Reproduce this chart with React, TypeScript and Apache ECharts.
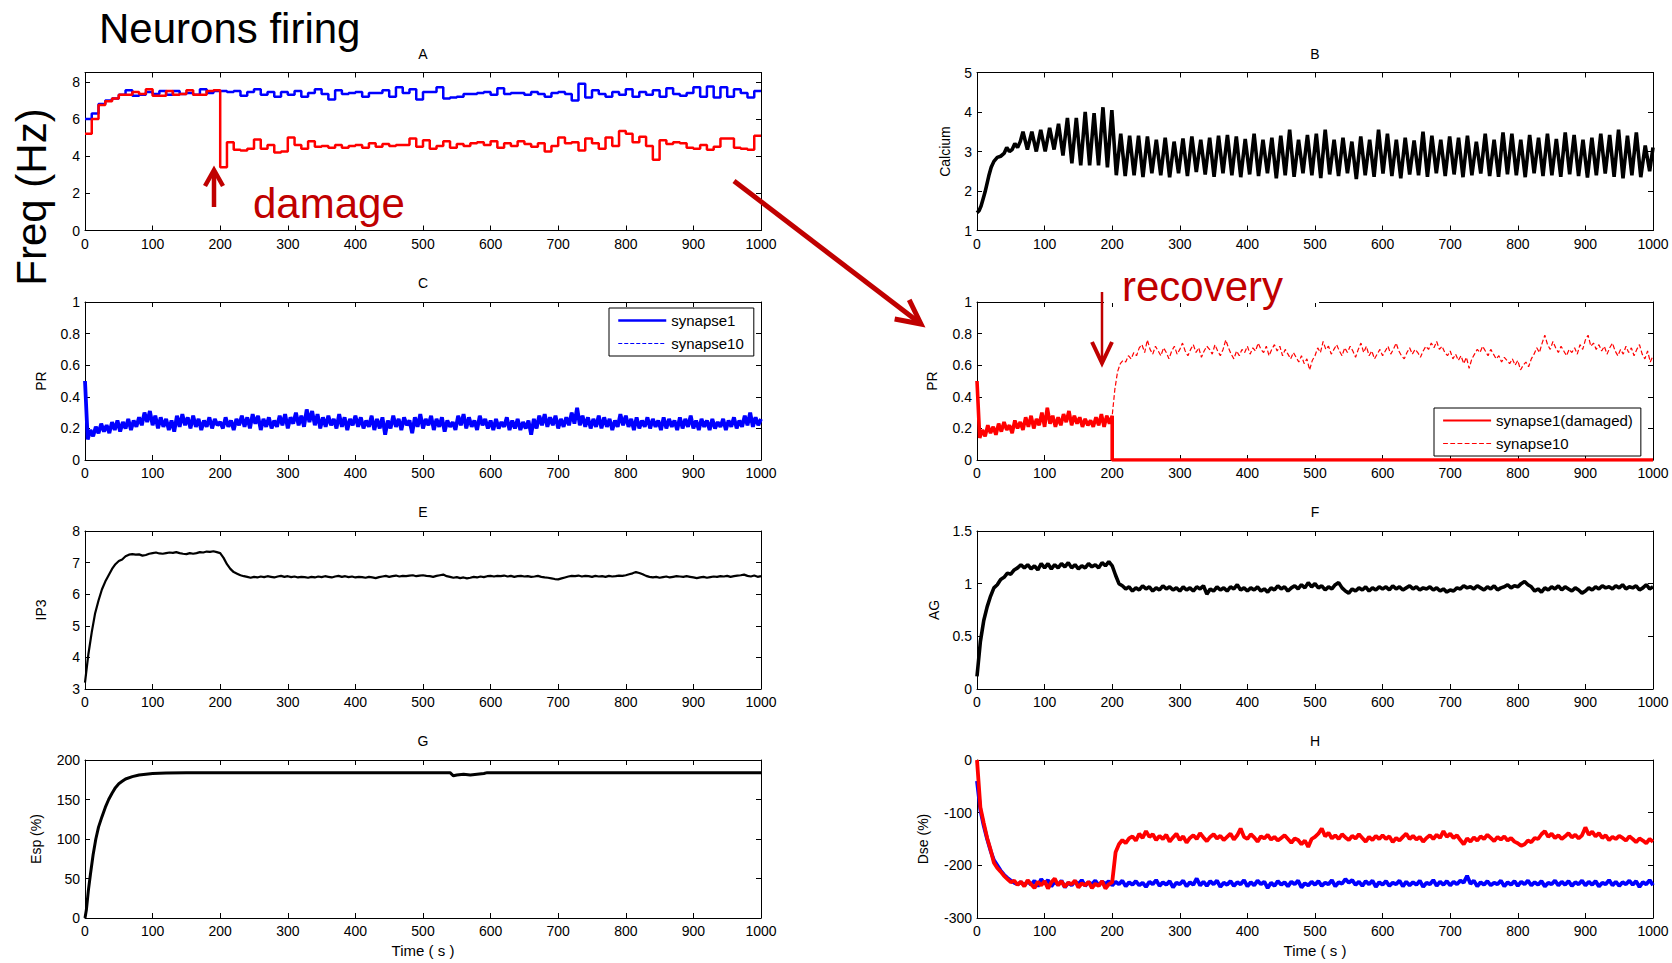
import React, { useEffect, useRef } from "react";
import * as echarts from "echarts";

const FONT = "'Liberation Sans', Arial, Helvetica, sans-serif";
const DARK_RED = "#c00000";

// ---------- Panel A: firing frequency, 10 s bins (0..990) ----------
const freqHealthy = [
  6.0, 6.3, 6.8, 7.0, 7.1, 7.3, 7.55, 7.25, 7.3, 7.45,
  7.35, 7.5, 7.3, 7.5, 7.35, 7.4, 7.3, 7.6, 7.4, 7.5,
  7.5, 7.45, 7.5, 7.25, 7.45, 7.6, 7.3, 7.45, 7.2, 7.45,
  7.3, 7.5, 7.2, 7.4, 7.6, 7.35, 7.05, 7.55, 7.35, 7.4,
  7.45, 7.2, 7.4, 7.4, 7.55, 7.2, 7.7, 7.4, 7.6, 7.05,
  7.45, 7.45, 7.7, 7.1, 7.15, 7.2, 7.35, 7.35, 7.4, 7.45,
  7.3, 7.65, 7.35, 7.4, 7.4, 7.3, 7.45, 7.35, 7.2, 7.4,
  7.45, 7.35, 7.0, 7.9, 7.15, 7.55, 7.35, 7.2, 7.45, 7.3,
  7.6, 7.2, 7.45, 7.3, 7.55, 7.2, 7.65, 7.35, 7.25, 7.4,
  7.7, 7.2, 7.75, 7.15, 7.7, 7.2, 7.6, 7.4, 7.15, 7.5,
];
const freqDamaged = [
  5.2, 6.0, 6.75, 6.95, 7.1, 7.3, 7.3, 7.45, 7.35, 7.6,
  7.25, 7.25, 7.5, 7.3, 7.35, 7.55, 7.3, 7.3, 7.5, 7.55,
  3.4, 4.75, 4.35, 4.3, 4.4, 4.9, 4.4, 4.6, 4.2, 4.25,
  5.0, 4.6, 4.4, 4.8, 4.5, 4.55, 4.45, 4.6, 4.45, 4.55,
  4.6, 4.45, 4.7, 4.5, 4.65, 4.55, 4.6, 4.6, 4.95, 4.5,
  4.85, 4.4, 4.55, 4.8, 4.45, 4.65, 4.55, 4.7, 4.75, 4.6,
  4.8, 4.45, 4.7, 4.55, 4.8, 4.65, 4.5, 4.7, 4.25, 4.55,
  5.0, 4.7, 4.75, 4.3, 4.95, 4.7, 4.4, 5.0, 4.55, 5.35,
  5.2, 4.75, 5.05, 4.55, 3.8, 4.85, 4.65, 4.75, 4.7, 4.45,
  4.4, 4.6, 4.35, 4.5, 4.95, 4.95, 4.45, 4.4, 4.35, 5.1,
];

// ---------- Panel B: calcium ----------
const caRampTime = [0, 3, 6, 9, 12, 15, 18, 21, 25, 30, 35, 40, 44, 48, 52, 56, 60, 64];
const caRampValue = [1.45, 1.5, 1.62, 1.8, 1.98, 2.2, 2.42, 2.6, 2.75, 2.85, 2.88, 2.95, 3.1, 3.0, 3.05, 3.2, 3.1, 3.25];
const caFirstPeak = 68;
const caPeriod = 13.15;
const caPeaks = [
  3.5, 3.5, 3.55, 3.6, 3.7, 3.85, 3.85, 4.0, 3.97, 4.12, 4.05,
  3.45, 3.4, 3.4, 3.38, 3.3, 3.35, 3.25, 3.33, 3.38, 3.3,
  3.35, 3.4, 3.42, 3.38, 3.32, 3.45, 3.3, 3.35, 3.4, 3.55,
  3.3, 3.42, 3.45, 3.55, 3.3, 3.35, 3.25, 3.38, 3.3, 3.55,
  3.45, 3.3, 3.35, 3.28, 3.5, 3.4, 3.3, 3.38, 3.35, 3.4,
  3.25, 3.45, 3.3, 3.48, 3.45, 3.3, 3.42, 3.35, 3.45, 3.32,
  3.48, 3.42, 3.3, 3.35, 3.45, 3.42, 3.55, 3.4, 3.48, 3.15,
];
const caTroughs = [
  3.05, 3.0, 3.0, 3.05, 2.9, 2.7, 2.65, 2.65, 2.65, 2.6, 2.4,
  2.38, 2.4, 2.35, 2.45, 2.4, 2.35, 2.45, 2.38, 2.48, 2.42,
  2.36, 2.45, 2.4, 2.35, 2.42, 2.38, 2.45, 2.32, 2.4, 2.36,
  2.45, 2.4, 2.33, 2.42, 2.38, 2.45, 2.3, 2.4, 2.36, 2.44,
  2.38, 2.32, 2.42, 2.4, 2.36, 2.45, 2.38, 2.42, 2.35, 2.4,
  2.44, 2.38, 2.36, 2.42, 2.4, 2.35, 2.45, 2.38, 2.4, 2.36,
  2.42, 2.38, 2.34, 2.4, 2.44, 2.36, 2.32, 2.4, 2.35, 2.5,
];
const caEnd = 3.1;

// ---------- Panel C: PR, healthy synapses (every 4 s, 0..1000) ----------
const prHealthy = [
  0.50, 0.13, 0.19, 0.15, 0.21, 0.17, 0.23, 0.18, 0.22, 0.17,
  0.24, 0.19, 0.25, 0.18, 0.24, 0.20, 0.26, 0.19, 0.25, 0.21,
  0.27, 0.22, 0.30, 0.24, 0.31, 0.22, 0.28, 0.20, 0.27, 0.21,
  0.26, 0.19, 0.25, 0.18, 0.28, 0.21, 0.29, 0.22, 0.27, 0.20,
  0.28, 0.21, 0.26, 0.19, 0.25, 0.21, 0.27, 0.20, 0.26, 0.22,
  0.24, 0.20, 0.27, 0.21, 0.25, 0.19, 0.26, 0.22, 0.28, 0.21,
  0.27, 0.20, 0.29, 0.23, 0.28, 0.19, 0.26, 0.21, 0.27, 0.20,
  0.25, 0.21, 0.28, 0.22, 0.29, 0.20, 0.27, 0.23, 0.30, 0.22,
  0.28, 0.21, 0.32, 0.24, 0.31, 0.22, 0.29, 0.20, 0.27, 0.21,
  0.28, 0.22, 0.26, 0.20, 0.29, 0.21, 0.27, 0.19, 0.26, 0.22,
  0.28, 0.21, 0.27, 0.20, 0.25, 0.21, 0.28, 0.19, 0.26, 0.20,
  0.27, 0.16, 0.25, 0.20, 0.28, 0.21, 0.26, 0.19, 0.27, 0.22,
  0.25, 0.17, 0.27, 0.21, 0.29, 0.20, 0.26, 0.22, 0.28, 0.19,
  0.26, 0.21, 0.27, 0.18, 0.25, 0.21, 0.24, 0.19, 0.28, 0.22,
  0.29, 0.20, 0.27, 0.21, 0.25, 0.19, 0.28, 0.22, 0.26, 0.20,
  0.25, 0.19, 0.26, 0.20, 0.24, 0.21, 0.27, 0.19, 0.25, 0.20,
  0.26, 0.19, 0.24, 0.20, 0.25, 0.16, 0.26, 0.20, 0.28, 0.22,
  0.29, 0.21, 0.27, 0.22, 0.28, 0.20, 0.26, 0.21, 0.27, 0.22,
  0.30, 0.23, 0.33, 0.22, 0.28, 0.21, 0.27, 0.20, 0.26, 0.21,
  0.28, 0.20, 0.27, 0.21, 0.26, 0.19, 0.25, 0.21, 0.29, 0.22,
  0.28, 0.21, 0.26, 0.19, 0.27, 0.20, 0.25, 0.21, 0.27, 0.20,
  0.26, 0.21, 0.25, 0.19, 0.27, 0.20, 0.26, 0.21, 0.25, 0.19,
  0.27, 0.20, 0.26, 0.21, 0.28, 0.20, 0.25, 0.19, 0.26, 0.21,
  0.25, 0.19, 0.26, 0.20, 0.24, 0.21, 0.26, 0.19, 0.25, 0.21,
  0.27, 0.20, 0.25, 0.21, 0.28, 0.22, 0.30, 0.21, 0.27, 0.22,
  0.26,
];

// ---------- Panel D: PR with damage (every 4 s) ----------
const prBeforeDamage = [
  0.50, 0.14, 0.19, 0.15, 0.22, 0.17, 0.21, 0.16, 0.23, 0.18,
  0.24, 0.19, 0.22, 0.17, 0.25, 0.20, 0.24, 0.19, 0.27, 0.21,
  0.28, 0.20, 0.26, 0.22, 0.30, 0.21, 0.33, 0.23, 0.28, 0.21,
  0.27, 0.22, 0.29, 0.24, 0.31, 0.22, 0.28, 0.23, 0.27, 0.21,
  0.26, 0.22, 0.25, 0.21, 0.27, 0.22, 0.29, 0.21, 0.28, 0.23,
];
const damageTime = 200;
const prAtDamage = 0.28;
const prDamagedAfter = 0;
const prRecovery = [
  0.45, 0.56, 0.61, 0.63, 0.62, 0.66, 0.64, 0.68, 0.66, 0.71,
  0.73, 0.68, 0.76, 0.70, 0.67, 0.72, 0.69, 0.66, 0.71, 0.68,
  0.64, 0.69, 0.72, 0.67, 0.70, 0.74, 0.69, 0.66, 0.70, 0.73,
  0.68, 0.71, 0.65, 0.69, 0.72, 0.70, 0.67, 0.73, 0.69, 0.66,
  0.70, 0.76, 0.71, 0.67, 0.64, 0.69, 0.66, 0.70, 0.68, 0.72,
  0.67, 0.71, 0.69, 0.74, 0.70, 0.68, 0.72, 0.66, 0.70, 0.73,
  0.69, 0.72, 0.66, 0.70, 0.67, 0.64, 0.68, 0.65, 0.62, 0.66,
  0.61, 0.64, 0.57, 0.63, 0.66, 0.71, 0.68, 0.75, 0.70, 0.72,
  0.67, 0.70, 0.73, 0.69, 0.66, 0.71, 0.68, 0.72, 0.69, 0.65,
  0.70, 0.74, 0.68, 0.72, 0.66, 0.69, 0.64, 0.67, 0.70, 0.66,
  0.69, 0.72, 0.67, 0.70, 0.74, 0.69, 0.66, 0.64, 0.68, 0.71,
  0.67, 0.70, 0.68, 0.65, 0.69, 0.72, 0.70, 0.74, 0.71, 0.75,
  0.70, 0.72, 0.68, 0.66, 0.69, 0.64, 0.67, 0.63, 0.66, 0.61,
  0.65, 0.58, 0.64, 0.67, 0.70, 0.68, 0.72, 0.69, 0.66, 0.70,
  0.67, 0.64, 0.66, 0.62, 0.65, 0.63, 0.61, 0.64, 0.60, 0.63,
  0.57, 0.60, 0.62, 0.59, 0.64, 0.67, 0.71, 0.68, 0.74, 0.79,
  0.73, 0.70, 0.75, 0.71, 0.68, 0.72, 0.69, 0.66, 0.70, 0.68,
  0.71, 0.67, 0.73, 0.70, 0.76, 0.79, 0.72, 0.74, 0.70, 0.73,
  0.69, 0.72, 0.67, 0.71, 0.74, 0.69, 0.66, 0.70, 0.67, 0.72,
  0.68, 0.71, 0.66, 0.70, 0.73, 0.67, 0.64, 0.69, 0.62, 0.66,
];

// ---------- Panel E: IP3 (every 5 s) ----------
const ip3 = [
  3.2, 4.1, 4.8, 5.4, 5.8, 6.15, 6.4, 6.6, 6.8, 6.95, 7.05, 7.1, 7.2, 7.25, 7.27, 7.25, 7.26, 7.22, 7.24, 7.28,
  7.3, 7.32, 7.29, 7.28, 7.3, 7.32, 7.31, 7.33, 7.3, 7.28, 7.27, 7.3, 7.28, 7.3, 7.33, 7.32, 7.35, 7.34, 7.36, 7.33,
  7.3, 7.15, 6.95, 6.8, 6.7, 6.65, 6.6, 6.57, 6.55, 6.52, 6.55, 6.53, 6.56, 6.54, 6.57, 6.55, 6.53, 6.56, 6.58, 6.55,
  6.57, 6.54, 6.56, 6.53, 6.55, 6.54, 6.52, 6.55, 6.53, 6.56, 6.54, 6.57, 6.55, 6.53, 6.56, 6.58, 6.55, 6.57, 6.54, 6.56,
  6.53, 6.55, 6.54, 6.52, 6.55, 6.53, 6.51, 6.54, 6.56, 6.58, 6.55, 6.57, 6.59, 6.56, 6.58, 6.57, 6.59, 6.6, 6.57, 6.59,
  6.6, 6.58, 6.57, 6.55, 6.58, 6.6, 6.62, 6.57, 6.55, 6.52, 6.54, 6.51, 6.53, 6.5, 6.52, 6.55, 6.53, 6.56, 6.54, 6.57,
  6.58, 6.56, 6.58, 6.57, 6.59, 6.56, 6.58, 6.55, 6.57, 6.58, 6.56, 6.57, 6.55, 6.56, 6.58, 6.55, 6.53, 6.52, 6.5, 6.48,
  6.47, 6.5, 6.53, 6.56, 6.58, 6.57, 6.59, 6.56, 6.58, 6.57, 6.55, 6.58, 6.56, 6.57, 6.55, 6.58, 6.56, 6.57, 6.59, 6.58,
  6.6, 6.63, 6.66, 6.7, 6.67, 6.63, 6.58, 6.55, 6.53, 6.55, 6.52, 6.54, 6.56, 6.53, 6.55, 6.57, 6.56, 6.55, 6.57, 6.55,
  6.53, 6.51, 6.53, 6.55, 6.52, 6.54, 6.56, 6.55, 6.57, 6.56, 6.58, 6.55, 6.57, 6.59, 6.6, 6.62, 6.58, 6.56, 6.59, 6.55,
  6.57,
];

// ---------- Panel F: AG (every 5 s) ----------
const ag = [
  0.12, 0.45, 0.65, 0.78, 0.88, 0.96, 0.99, 1.04, 1.06, 1.1, 1.09, 1.13, 1.15, 1.18, 1.15, 1.18, 1.14, 1.17, 1.13, 1.19,
  1.15, 1.19, 1.14, 1.18, 1.15, 1.19, 1.16, 1.2, 1.15, 1.18, 1.14, 1.17, 1.15, 1.19, 1.16, 1.18, 1.15, 1.2, 1.17, 1.21,
  1.17, 1.08, 1.0, 0.98, 0.95, 0.97, 0.93, 0.96, 0.94, 0.98, 0.95, 0.97, 0.93, 0.96, 0.94, 0.98, 0.95, 0.97, 0.94, 0.96,
  0.93, 0.97, 0.94, 0.96, 0.93, 0.97, 0.95, 0.98, 0.9, 0.95, 0.93, 0.97, 0.94, 0.96, 0.93, 0.97, 0.95, 0.99, 0.94, 0.96,
  0.93, 0.96, 0.94, 0.97, 0.93, 0.95, 0.92, 0.96, 0.94, 0.98, 0.95, 0.97, 0.93, 0.96, 0.98, 0.95, 0.99, 0.96, 1.01, 0.97,
  1.0, 0.96, 0.98, 0.94, 0.97, 0.95, 0.99, 1.01, 0.96, 0.93, 0.91, 0.95, 0.93, 0.96, 0.94, 0.97, 0.93, 0.96, 0.94, 0.97,
  0.95, 0.97, 0.94, 0.98, 0.95, 0.97, 0.94, 0.96, 0.98, 0.95, 0.97, 0.94, 0.96, 0.95, 0.97, 0.94, 0.96, 0.93, 0.95, 0.92,
  0.94, 0.93, 0.96, 0.95, 0.98, 0.96, 0.97, 0.95, 0.98, 0.96, 0.94, 0.97, 0.95, 0.98, 0.94, 0.96, 0.97, 0.99, 0.96, 0.98,
  0.97, 1.0, 1.02, 0.99, 0.97, 0.93, 0.95, 0.92, 0.96, 0.94, 0.97, 0.95, 0.98, 0.94, 0.97, 0.95, 0.93, 0.96, 0.94, 0.91,
  0.93, 0.96, 0.94, 0.97, 0.95, 0.98, 0.96, 0.97, 0.95, 0.98, 0.96, 0.99, 0.95, 0.97, 0.96, 0.98, 0.94, 0.96, 0.99, 0.95,
  0.97,
];

// ---------- Panel G: Esp ----------
const espTime = [0, 2, 5, 8, 12, 16, 20, 25, 30, 35, 40, 45, 50, 55, 60, 70, 80, 90, 100, 120, 150, 200, 300, 400, 500, 540, 545, 550, 560, 570, 580, 590, 595, 600, 700, 800, 900, 1000];
const espValue = [0, 10, 35, 55, 80, 100, 115, 128, 140, 150, 158, 165, 170, 173, 176, 179, 181, 182, 183, 183.5, 184, 184, 184, 184, 184, 184, 180, 181, 182, 181, 182, 183, 184, 184, 184, 184, 184, 184];

// ---------- Panel H: Dse (every 5 s) ----------
const dseHealthy = [
  -40, -95, -125, -150, -172, -190, -200, -210, -218, -224, -229, -233, -236, -232, -238, -230, -237, -229, -240, -226,
  -235, -228, -240, -231, -237, -229, -242, -233, -238, -230, -236, -228, -239, -232, -236, -229, -238, -231, -235, -230,
  -238, -231, -236, -229, -240, -232, -237, -230, -238, -233, -241, -231, -236, -228, -239, -232, -237, -230, -242, -233,
  -236, -229, -240, -232, -237, -225, -238, -231, -239, -230, -236, -229, -241, -233, -237, -230, -239, -232, -236, -228,
  -240, -232, -238, -229, -236, -231, -243, -233, -239, -230, -237, -232, -240, -231, -236, -229, -242, -234, -238, -231,
  -237, -230, -239, -233, -236, -228, -240, -232, -235, -226, -233, -228, -237, -231, -239, -230, -236, -229, -241, -232,
  -237, -230, -239, -233, -236, -229, -240, -231, -238, -232, -237, -229, -241, -233, -236, -228, -239, -231, -237, -230,
  -238, -231, -236, -229, -233, -220, -235, -229, -240, -232, -237, -230, -238, -233, -236, -229, -240, -232, -237, -230,
  -239, -231, -236, -229, -238, -232, -237, -230, -240, -233, -236, -229, -238, -231, -237, -230, -239, -232, -236, -229,
  -238, -231, -237, -230, -240, -233, -236, -228, -238, -231, -239, -232, -236, -229, -237, -230, -241, -232, -236, -228,
  -238,
];
const dseDamaged = [
  0, -90, -120, -148, -170, -195, -205, -212, -220, -226, -232, -229, -237, -231, -240, -228, -236, -243, -231, -238,
  -230, -244, -232, -225, -238, -230, -241, -233, -236, -229, -242, -234, -238, -231, -243, -235, -239, -230, -244, -236,
  -232, -175, -160, -152, -158, -149, -145, -153, -140, -148, -135, -146, -141, -152, -144, -150, -142, -155, -147, -140,
  -152, -145, -157, -148, -143, -150, -139, -147, -154, -146, -141, -149, -144, -152, -146, -140, -151, -143, -130, -146,
  -150, -141, -147, -155, -145, -149, -142, -151, -146, -153, -148, -143, -150, -157, -149, -152, -160, -153, -165, -150,
  -146, -140, -130, -145, -138, -149, -143, -150, -141, -147, -152, -144, -149, -141, -148, -155, -146, -152, -144, -150,
  -143, -150, -145, -156, -148, -153, -146, -140, -150, -144, -151, -146, -155, -148, -143, -150, -142, -148, -135, -146,
  -140, -148, -143, -152, -160, -149, -155, -147, -153, -145, -150, -142, -148, -154, -146, -151, -145, -153, -148, -155,
  -158, -163, -160, -153, -156, -148, -150, -141, -135, -146, -140, -148, -143, -150, -145, -139, -147, -142, -149, -143,
  -128, -142, -136, -145, -139, -148, -143, -152, -146, -150, -144, -148, -153, -145, -150, -156, -149, -153, -158, -150,
  -155,
];

// ---------- axes / layout ----------
const xTicks = { min: 0, max: 1000, interval: 100 };
const panelTitles = ["A", "B", "C", "", "E", "F", "G", "H"];
const yNames = ["", "Calcium", "PR", "PR", "IP3", "AG", "Esp (%)", "Dse (%)"];
const yMins = [0, 1, 0, 0, 3, 0, 0, -300];
const yMaxs = [8.5, 5, 1, 1, 8, 1.5, 200, 0];
const yIntervals = [2, 1, 0.2, 0.2, 1, 0.5, 50, 100];
const xName = "Time ( s )";

const COL_LEFT = [85, 977];
const ROW_TOP = [72.5, 302, 531, 760];
const PW = 676;
const PH = 158;
const Y_NAME_GAP = [0, 25, 37, 38, 37, 36, 42, 47];

function onGrid(values: number[], step: number, start = 0): number[][] {
  return values.map((v, i) => [start + i * step, v]);
}

const plainNumber = (v: number) => String(Math.round(v * 1000) / 1000);

function buildOption(): any {
  const grids: any[] = [];
  const xAxes: any[] = [];
  const yAxes: any[] = [];
  const graphics: any[] = [];
  const tickStyle = { color: "#000", fontSize: 14, fontFamily: FONT, formatter: plainNumber };

  for (let g = 0; g < 8; g++) {
    const left = COL_LEFT[g % 2];
    const top = ROW_TOP[Math.floor(g / 2)];
    grids.push({ left, top, width: PW, height: PH, show: false });
    const lastRow = g >= 6;
    const axisLine = { show: true, onZero: false, lineStyle: { color: "#000", width: 1 } };
    const axisTick = { show: true, inside: true, length: 5, lineStyle: { color: "#000", width: 1 } };
    xAxes.push({
      type: "value", gridIndex: g, position: "bottom", ...xTicks,
      axisLine, axisTick, splitLine: { show: false },
      axisLabel: { ...tickStyle, margin: 6 },
      name: lastRow ? xName : "", nameLocation: "middle", nameGap: 25,
      nameTextStyle: { color: "#000", fontSize: 15, fontFamily: FONT },
    });
    xAxes.push({
      type: "value", gridIndex: g, position: "top", ...xTicks,
      axisLine, axisTick, splitLine: { show: false }, axisLabel: { show: false },
    });
    yAxes.push({
      type: "value", gridIndex: g, position: "left",
      min: yMins[g], max: yMaxs[g], interval: yIntervals[g],
      axisLine, axisTick, splitLine: { show: false },
      axisLabel: { ...tickStyle, margin: 5, showMaxLabel: g !== 0 },
      name: yNames[g], nameLocation: "middle", nameGap: Y_NAME_GAP[g],
      nameTextStyle: { color: "#000", fontSize: 14, fontFamily: FONT },
    });
    yAxes.push({
      type: "value", gridIndex: g, position: "right",
      min: yMins[g], max: yMaxs[g], interval: yIntervals[g],
      axisLine, axisTick, splitLine: { show: false }, axisLabel: { show: false },
    });
    if (panelTitles[g]) {
      graphics.push({
        type: "text", x: left + PW / 2, y: top - 19, z: 50,
        style: { text: panelTitles[g], fill: "#000", fontSize: 14, fontFamily: FONT, align: "center", verticalAlign: "middle" },
      });
    }
  }

  const line = (name: string, g: number, data: any[], color: string, width: number, extra: any = {}) => ({
    name, type: "line", xAxisIndex: g * 2, yAxisIndex: g * 2, data,
    showSymbol: false, symbol: "none", clip: true,
    lineStyle: { color, width, ...(extra.lineStyle || {}) },
    itemStyle: { color },
    ...extra.opts,
  });

  const stepData = (vals: number[]) => [...onGrid(vals, 10), [1000, vals[vals.length - 1]]];

  const caData: number[][] = caRampTime.map((t, i) => [t, caRampValue[i]]);
  caPeaks.forEach((p, i) => {
    caData.push([caFirstPeak + i * caPeriod, p]);
    caData.push([caFirstPeak + i * caPeriod + caPeriod / 2, caTroughs[i]]);
  });
  caData.push([1000, caEnd]);

  const dPre = onGrid(prBeforeDamage, 4);
  const dDamaged = [...dPre, [damageTime, prAtDamage], [damageTime, prDamagedAfter], [1000, prDamagedAfter]];
  const dS10 = [...dPre, [damageTime, prAtDamage], ...onGrid(prRecovery, 4, damageTime + 4)];

  const series: any[] = [
    line("healthy neurons", 0, stepData(freqHealthy), "#0000ff", 2.5, { opts: { step: "end" } }),
    line("damaged neuron", 0, stepData(freqDamaged), "#ff0000", 2.5, { opts: { step: "end" } }),
    line("Calcium", 1, caData, "#000", 3.6),
    line("synapse1", 2, onGrid(prHealthy, 4), "#0000ff", 3.8),
    line("synapse10", 2, onGrid(prHealthy, 4), "#0000ff", 1, { lineStyle: { type: "dashed" } }),
    line("synapse1(damaged)", 3, dDamaged, "#ff0000", 3.6),
    line("synapse10", 3, dS10, "#ff0000", 1.2, { lineStyle: { type: "dashed" } }),
    line("IP3", 4, onGrid(ip3, 5), "#000", 2.2),
    line("AG", 5, onGrid(ag, 5), "#000", 3.6),
    line("Esp", 6, espTime.map((t, i) => [t, espValue[i]]), "#000", 3),
    line("Dse healthy", 7, onGrid(dseHealthy, 5), "#0000ff", 3.8),
    line("Dse damaged", 7, onGrid(dseDamaged, 5), "#ff0000", 3.8),
  ];

  // annotations
  const bigText = (text: string, x: number, y: number, fill: string, rotation = 0) => ({
    type: "text", x, y, rotation, z: 60,
    style: { text, fill, fontSize: 42, fontFamily: FONT, align: rotation ? "center" : "left", verticalAlign: "middle" },
  });
  graphics.push(bigText("Neurons firing", 99, 28, "#000"));
  graphics.push(bigText("Freq (Hz)", 31, 197, "#000", Math.PI / 2));
  graphics.push(bigText("damage", 253, 203, DARK_RED));

  // up arrow (damage)
  graphics.push({ type: "line", z: 60, shape: { x1: 214, y1: 207, x2: 214, y2: 172 }, style: { stroke: DARK_RED, lineWidth: 4.5 } });
  graphics.push({ type: "polyline", z: 60, shape: { points: [[205, 186], [214, 170], [223, 186]] }, style: { stroke: DARK_RED, lineWidth: 4.5, fill: "none" } });

  // diagonal arrow
  const ax1 = 734, ay1 = 181, ax2 = 921, ay2 = 324;
  const ang = Math.atan2(ay2 - ay1, ax2 - ax1);
  const hl = 24, hw = 12;
  const bx = ax2 - hl * Math.cos(ang), by = ay2 - hl * Math.sin(ang);
  const px = -Math.sin(ang), py = Math.cos(ang);
  graphics.push({ type: "line", z: 60, shape: { x1: ax1, y1: ay1, x2: ax2 - 2 * Math.cos(ang), y2: ay2 - 2 * Math.sin(ang) }, style: { stroke: DARK_RED, lineWidth: 5 } });
  graphics.push({ type: "polyline", z: 60, shape: { points: [[bx + hw * px, by + hw * py], [ax2, ay2], [bx - hw * px, by - hw * py]] }, style: { stroke: DARK_RED, lineWidth: 5, fill: "none" } });

  // recovery label (white box covers part of panel D's top frame)
  graphics.push({ type: "rect", z: 55, shape: { x: 1104, y: 268, width: 215, height: 34.9 }, style: { fill: "#fff" } });
  graphics.push(bigText("recovery", 1122, 286, DARK_RED));
  graphics.push({ type: "line", z: 60, shape: { x1: 1102, y1: 292, x2: 1102, y2: 362 }, style: { stroke: DARK_RED, lineWidth: 2.5 } });
  graphics.push({ type: "polyline", z: 60, shape: { points: [[1092, 342], [1102, 363], [1112, 342]] }, style: { stroke: DARK_RED, lineWidth: 4, fill: "none" } });

  const legendBase = {
    orient: "vertical", itemWidth: 48, itemHeight: 14, itemGap: 8,
    backgroundColor: "#fff", borderColor: "#000", borderWidth: 1,
    textStyle: { color: "#000", fontSize: 15, fontFamily: FONT },
    selectedMode: false,
  };
  const hiddenSymbol = { opacity: 0, borderWidth: 0 };
  const legends = [
    {
      ...legendBase, left: 609, top: 308, padding: [5, 10, 5, 8],
      data: [
        { name: "synapse1", lineStyle: { color: "#0000ff", width: 2.5, type: "solid" }, itemStyle: hiddenSymbol },
        { name: "synapse10", lineStyle: { color: "#0000ff", width: 1, type: "dashed" }, itemStyle: hiddenSymbol },
      ],
    },
    {
      ...legendBase, left: 1434, top: 408, padding: [5, 8, 5, 8],
      data: [
        { name: "synapse1(damaged)", lineStyle: { color: "#ff0000", width: 2.2, type: "solid" }, itemStyle: hiddenSymbol },
        { name: "synapse10", lineStyle: { color: "#ff0000", width: 1.2, type: "dashed" }, itemStyle: hiddenSymbol },
      ],
    },
  ];

  return {
    animation: false,
    backgroundColor: "#fff",
    textStyle: { fontFamily: FONT },
    grid: grids,
    xAxis: xAxes,
    yAxis: yAxes,
    legend: legends,
    series,
    graphic: graphics,
  };
}

export default function App() {
  const ref = useRef<HTMLDivElement>(null);
  useEffect(() => {
    document.body.style.margin = "0";
    const chart = echarts.init(ref.current as HTMLDivElement, null, { renderer: "svg" });
    chart.setOption(buildOption());
    return () => chart.dispose();
  }, []);
  return <div ref={ref} style={{ width: 1672, height: 963, background: "#fff" }} />;
}
